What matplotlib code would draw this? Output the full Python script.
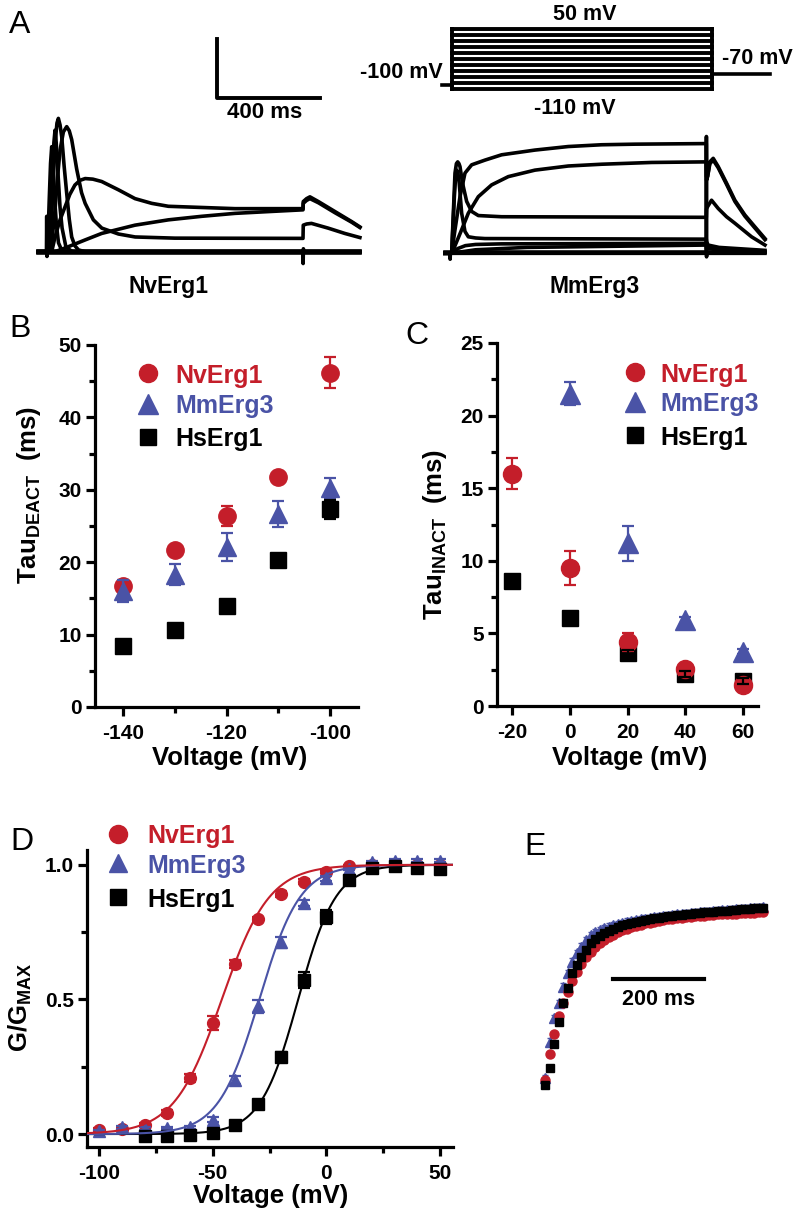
import numpy as np
import matplotlib
matplotlib.use("Agg")
import matplotlib.pyplot as plt
from matplotlib.ticker import FixedLocator, MultipleLocator, FormatStrFormatter

plt.rcParams['font.family'] = ['Liberation Sans', 'DejaVu Sans']
plt.rcParams['font.weight'] = 'bold'
plt.rcParams['axes.unicode_minus'] = False
plt.rcParams['mathtext.fontset'] = 'custom'
plt.rcParams['mathtext.rm'] = 'Liberation Sans:bold'
plt.rcParams['mathtext.bf'] = 'Liberation Sans:bold'
plt.rcParams['mathtext.it'] = 'Liberation Sans:bold'

RED = "#C41E2A"
BLUE = "#4A53A6"
BLACK = "#000000"
names = ["NvErg1", "MmErg3", "HsErg1"]

# ---------------- A: current traces (ms, nA) ----------------
nv_traces = [
    ([-33, -1, 0, 1, 2, 1000, 1000.5, 1001.5, 1003, 1222], [0, 0, 0.6, -0.08, 0, 0, -0.2, 0.05, 0, 0]),
    ([-33, 1000, 1222], [0.02, 0.02, 0.02]),
    ([-33, 1000, 1222], [-0.02, -0.02, -0.02]),
    ([-33, 0, 5, 10, 15, 19.5, 24, 30, 38, 46, 58, 80, 1222],
     [0, 0, 0.25, 0.9, 1.5, 1.78, 1.55, 0.95, 0.45, 0.15, 0.03, 0, 0]),
    ([-33, 0, 8, 15, 22, 28, 32.5, 37, 45, 52, 60, 75, 100, 1222],
     [0, 0, 0.1, 0.55, 1.3, 1.85, 2.06, 1.85, 1.25, 0.75, 0.4, 0.08, 0, 0]),
    ([-33, 0, 9, 18, 26, 34, 40, 45.5, 52, 58.5, 68, 78, 88, 97.5, 110, 124, 150, 1222],
     [0, 0, 0.02, 0.5, 1.27, 1.9, 2.18, 2.26, 2.15, 1.95, 1.45, 0.99, 0.55, 0.25, 0.1, 0.03, 0, 0]),
    ([-33, 13, 22, 32.5, 42, 52, 65, 78, 88, 97.5, 117, 136, 150, 182, 215, 280, 345, 500, 1000,
      1001, 1014, 1033, 1098, 1163, 1222],
     [0, 0, 0.25, 0.71, 1.25, 1.72, 2.03, 2.12, 2.05, 1.9, 1.4, 1.0, 0.82, 0.54, 0.4, 0.3, 0.25, 0.23, 0.226,
      0.45, 0.47, 0.48, 0.40, 0.31, 0.24]),
    ([-33, 19.5, 32.5, 52, 71.5, 90, 110, 130, 150, 180, 214.5, 279.5, 344.5, 409.5, 474.5, 604.5, 734.5, 1000,
      1001, 1014, 1027, 1060, 1125, 1190, 1222],
     [0, 0, 0.25, 0.54, 0.76, 0.97, 1.13, 1.21, 1.24, 1.23, 1.19, 1.05, 0.9, 0.82, 0.77, 0.75, 0.73, 0.73,
      0.85, 0.9, 0.93, 0.85, 0.68, 0.51, 0.42]),
    ([-33, 32.5, 84.5, 150, 214.5, 344.5, 474.5, 604.5, 734.5, 864.5, 1000, 1001, 1014, 1027, 1060, 1125, 1190, 1222],
     [0, 0, 0.085, 0.2, 0.31, 0.45, 0.54, 0.60, 0.65, 0.68, 0.71, 0.82, 0.87, 0.9, 0.83, 0.66, 0.5, 0.41]),
]

mm_traces = [
    ([-20, 0, 0.5, 1.5, 1000, 1000.5, 1001, 1002, 1229], [0, 0, -0.1, 0, 0, 1.98, -0.06, 0, 0]),
    ([-20, 1000, 1229], [0.02, 0.02, 0.02]),
    ([-20, 6.5, 19.5, 39, 58.5, 84.5, 136.5, 201.5, 331.5, 461.5, 591.5, 721.5, 1000,
      1001, 1005, 1014, 1027, 1046.5, 1079, 1111.5, 1150.5, 1189.5, 1229],
     [0, 0, 0.40, 0.96, 1.36, 1.50, 1.58, 1.67, 1.75, 1.81, 1.84, 1.85, 1.86,
      1.3, 1.3, 1.55, 1.61, 1.47, 1.19, 0.90, 0.65, 0.45, 0.25]),
    ([-20, 6.5, 13, 45.5, 71.5, 110.5, 162.5, 227.5, 331.5, 461.5, 591.5, 786.5, 1000,
      1001, 1005, 1014, 1027, 1046.5, 1079, 1111.5, 1150.5, 1189.5, 1229],
     [0, 0, 0.06, 0.40, 0.68, 0.96, 1.16, 1.30, 1.41, 1.48, 1.51, 1.54, 1.55,
      1.24, 1.3, 1.52, 1.58, 1.45, 1.17, 0.88, 0.63, 0.43, 0.23]),
    ([-20, 6.5, 13, 19.5, 25, 30, 35, 39, 45, 52, 65, 84.5, 110.5, 201.5, 1000,
      1001, 1005, 1020.5, 1046.5, 1079, 1111.5, 1176.5, 1229],
     [0, 0, 0.68, 1.36, 1.52, 1.55, 1.52, 1.47, 1.3, 1.13, 0.88, 0.71, 0.64, 0.62, 0.61,
      0.75, 0.79, 0.90, 0.76, 0.62, 0.51, 0.28, 0.14]),
    ([-20, 6.5, 12, 17, 22, 26, 30, 35, 45.5, 58.5, 71.5, 100, 136.5, 1000, 1001, 1007, 1050, 1229],
     [0, 0, 0.5, 0.96, 1.3, 1.41, 1.38, 1.24, 0.68, 0.37, 0.28, 0.26, 0.25, 0.24, 0.2, 0.14, 0.1, 0.05]),
    ([-20, 5, 30, 60, 100, 200, 1000, 1001, 1005, 1100, 1229],
     [0, 0, 0.08, 0.13, 0.15, 0.16, 0.17, 0.12, 0.1, 0.05, 0.02]),
    ([-20, 5, 100, 300, 1000, 1001, 1100, 1229],
     [0, 0, 0.06, 0.1, 0.14, 0.08, 0.04, 0.02]),
]

# voltage protocol (mV, ms)
step_levels = [-110, -94, -78, -62, -46, -30, -14, 2, 18, 34, 50]
hold_v, tail_v = -100, -70
hold_t, step_end, tail_end = -38, 1000, 1223

# ---------------- B: tau deactivation ----------------
deact_v = [-140, -130, -120, -110, -100]
deact_nv = [16.7, 21.7, 26.4, 31.7, 46.2]
deact_nv_err = [0.5, 0.5, 1.4, 0.5, 2.1]
deact_mm = [16.0, 18.3, 22.1, 26.7, 30.2]
deact_mm_err = [1.5, 1.4, 1.9, 1.8, 1.4]
deact_hs = [8.4, 10.7, 13.9, 20.3, 27.3]
deact_hs_err = [0.3, 0.3, 0.3, 0.3, 1.3]

# ---------------- C: tau inactivation ----------------
inact_v = [-20, 0, 20, 40, 60]
inact_nv = [16.0, 9.5, 4.4, 2.55, 1.45]
inact_nv_err = [1.05, 1.2, 0.6, 0.2, 0.2]
inact_mm_v = [0, 20, 40, 60]
inact_mm = [21.5, 11.2, 5.9, 3.75]
inact_mm_err = [0.8, 1.2, 0.2, 0.2]
inact_hs = [8.6, 6.05, 3.65, 2.2, 1.7]
inact_hs_err = [0.2, 0.2, 0.2, 0.2, 0.2]

# ---------------- D: G/Gmax ----------------
gv_v = [-100, -90, -80, -70, -60, -50, -40, -30, -20, -10, 0, 10, 20, 30, 40, 50]
gv_nv = [0.016, 0.02, 0.035, 0.078, 0.208, 0.412, 0.631, 0.798, 0.892, 0.938, 0.975, 0.994, 1.0, 1.0, 1.0, 1.0]
gv_nv_err = [0.005, 0.005, 0.005, 0.01, 0.015, 0.025, 0.015, 0.01, 0.01, 0.01, 0.005, 0.005, 0.005, 0.005, 0.005, 0.005]
gv_mm = [0.01, 0.025, 0.02, 0.022, 0.025, 0.053, 0.20, 0.474, 0.712, 0.858, 0.95, 0.985, 1.01, 1.015, 1.015, 1.015]
gv_mm_err = [0.005, 0.005, 0.005, 0.005, 0.005, 0.01, 0.015, 0.025, 0.02, 0.01, 0.01, 0.005, 0.005, 0.005, 0.005, 0.005]
gv_hs_v = [-80, -70, -60, -50, -40, -30, -20, -10, 0, 10, 20, 30, 40, 50]
gv_hs = [-0.006, -0.006, -0.005, 0.004, 0.035, 0.111, 0.288, 0.573, 0.806, 0.942, 0.988, 0.994, 0.99, 0.985]
gv_hs_err = [0.005, 0.005, 0.005, 0.005, 0.01, 0.01, 0.015, 0.03, 0.025, 0.01, 0.005, 0.005, 0.005, 0.005]
# Boltzmann fit parameters (V1/2, slope) for NvErg1, MmErg3, HsErg1
fit_vhalf = [-46.0, -29.5, -12.4]
fit_k = [10.5, 9.0, 8.3]

# ---------------- E: activation time course (normalized) ----------------
e_t = np.arange(0, 481, 10)
e_nv = [0.222, 0.338, 0.425, 0.507, 0.563, 0.615, 0.664, 0.704, 0.738, 0.767, 0.793, 0.812, 0.83, 0.845,
        0.857, 0.868, 0.878, 0.887, 0.895, 0.902, 0.908, 0.913, 0.918, 0.922, 0.926, 0.93, 0.933, 0.936,
        0.939, 0.941, 0.944, 0.946, 0.948, 0.95, 0.952, 0.953, 0.955, 0.957, 0.958, 0.959, 0.96, 0.961,
        0.962, 0.963, 0.964, 0.965, 0.966, 0.967, 0.968]
e_mm = [0.23, 0.392, 0.496, 0.563, 0.637, 0.696, 0.748, 0.785, 0.815, 0.844, 0.867, 0.878, 0.888, 0.896,
        0.903, 0.909, 0.915, 0.92, 0.925, 0.929, 0.933, 0.936, 0.939, 0.942, 0.945, 0.948, 0.951, 0.953,
        0.956, 0.958, 0.96, 0.962, 0.964, 0.966, 0.968, 0.97, 0.971, 0.973, 0.974, 0.976, 0.977, 0.979,
        0.98, 0.982, 0.983, 0.985, 0.987, 0.988, 0.99]
e_hs = [0.20, 0.274, 0.382, 0.481, 0.563, 0.63, 0.696, 0.733, 0.77, 0.80, 0.83, 0.848, 0.863, 0.876,
        0.886, 0.895, 0.902, 0.909, 0.915, 0.92, 0.925, 0.929, 0.933, 0.937, 0.94, 0.944, 0.947, 0.95,
        0.953, 0.955, 0.957, 0.959, 0.961, 0.963, 0.966, 0.967, 0.969, 0.97, 0.972, 0.973, 0.975, 0.977,
        0.978, 0.98, 0.981, 0.983, 0.985, 0.986, 0.988]
e_mm_err = 0.015

W, H = 796, 1218
fig = plt.figure(figsize=(W / 100, H / 100), dpi=100)


def box(x0, y0, x1, y1):
    return fig.add_axes([x0 / W, 1 - y1 / H, (x1 - x0) / W, (y1 - y0) / H])


def ftext(x, y, s, **kw):
    fig.text(x / W, 1 - y / H, s, **kw)


def style(ax):
    for s in ['top', 'right']:
        ax.spines[s].set_visible(False)
    for s in ['left', 'bottom']:
        ax.spines[s].set_linewidth(2.3)
    ax.tick_params(which='major', length=6.5, width=2.3, labelsize=15)
    ax.tick_params(which='minor', length=4, width=2.3)
    ax.tick_params(axis='x', which='both', pad=6)
    ax.tick_params(axis='y', which='both', pad=3)


def errs(ax, x, y, e, c, z):
    ax.errorbar(x, y, yerr=e, fmt='none', ecolor=c, elinewidth=1.6, capsize=4.5, capthick=1.6, zorder=z)


# ---- A left traces
axl = box(30, 30, 370, 268)
for t, i in nv_traces:
    axl.plot(t, i, color='k', lw=2.6, solid_joinstyle='round')
axl.plot([665, 665, 1065], [3.6, 2.6, 2.6], color='k', lw=2.8)
axl.set_xlim(-65.2, 1261.4)
axl.set_ylim(-0.276, 3.758)
axl.axis('off')

# ---- A right traces
axr = box(440, 125, 780, 268)
for t, i in mm_traces:
    axr.plot(t, i, color='k', lw=2.6, solid_joinstyle='round')
axr.set_xlim(-39.0, 1287.6)
axr.set_ylim(-0.249, 2.175)
axr.axis('off')

# ---- A protocol
axp = box(435, 20, 780, 95)
for v in step_levels:
    axp.plot([0, step_end], [v, v], color='k', lw=2.8)
axp.plot([0, 0], [step_levels[0], step_levels[-1]], color='k', lw=2.8)
axp.plot([step_end, step_end], [step_levels[0], step_levels[-1]], color='k', lw=2.8)
axp.plot([hold_t, 0], [hold_v, hold_v], color='k', lw=2.6)
axp.plot([step_end, tail_end], [tail_v, tail_v], color='k', lw=2.6)
axp.set_xlim(-65.4, 1261.5)
axp.set_ylim(-126, 74)
axp.axis('off')

ftext(20, 25, 'A', fontsize=23, fontweight='normal', ha='center', va='center')
ftext(265, 113, '400 ms', fontsize=16, ha='center', va='center')
ftext(169, 287, 'NvErg1', fontsize=16.5, ha='center', va='center')
ftext(595, 287, 'MmErg3', fontsize=16.5, ha='center', va='center')
ftext(585, 15, '50 mV', fontsize=15.5, ha='center', va='center')
ftext(443, 73, '-100 mV', fontsize=15.5, ha='right', va='center')
ftext(722, 58, '-70 mV', fontsize=15.5, ha='left', va='center')
ftext(575, 108, '-110 mV', fontsize=15.5, ha='center', va='center')

# ---- B
axb = box(95, 345, 358, 707)
style(axb)
errs(axb, deact_v, deact_nv, deact_nv_err, RED, 2)
axb.plot(deact_v, deact_nv, 'o', color=RED, ms=12.5, zorder=3)
errs(axb, deact_v, deact_mm, deact_mm_err, BLUE, 4)
axb.plot(deact_v, deact_mm, '^', color=BLUE, ms=13, zorder=5)
axb.plot(deact_v, deact_hs, 's', color=BLACK, ms=11.5, zorder=6)
errs(axb, deact_v, deact_hs, deact_hs_err, BLACK, 7)
axb.set_xlim(-145.4, -94.6)
axb.set_ylim(0, 50)
axb.xaxis.set_major_locator(FixedLocator([-140, -120, -100]))
axb.xaxis.set_minor_locator(FixedLocator([-130, -110]))
axb.yaxis.set_major_locator(MultipleLocator(10))
axb.yaxis.set_minor_locator(MultipleLocator(5))
ftext(20, 329, 'B', fontsize=23, fontweight='normal', ha='center', va='center')
ftext(29, 495, r'Tau$_{\mathrm{DEACT}}$  (ms)', fontsize=18.5, rotation=90, ha='center', va='center')
ftext(230, 765, 'Voltage (mV)', fontsize=18.5, ha='center', va='baseline')

# ---- C
axc = box(497, 343, 758, 706)
style(axc)
axc.plot(inact_v, inact_hs, 's', color=BLACK, ms=12, zorder=2)
errs(axc, inact_v, inact_nv, inact_nv_err, RED, 3)
axc.plot(inact_v, inact_nv, 'o', color=RED, ms=13, zorder=4)
errs(axc, inact_v, inact_hs, inact_hs_err, BLACK, 5)
errs(axc, inact_mm_v, inact_mm, inact_mm_err, BLUE, 6)
axc.plot(inact_mm_v, inact_mm, '^', color=BLUE, ms=14, zorder=7)
axc.set_xlim(-25.2, 65.2)
axc.set_ylim(0, 25)
axc.xaxis.set_major_locator(FixedLocator([-20, 0, 20, 40, 60]))
axc.yaxis.set_major_locator(MultipleLocator(5))
axc.yaxis.set_minor_locator(MultipleLocator(2.5))
ftext(417, 336, 'C', fontsize=23, fontweight='normal', ha='center', va='center')
ftext(435, 534, r'Tau$_{\mathrm{INACT}}$  (ms)', fontsize=18.5, rotation=90, ha='center', va='center')
ftext(630, 765, 'Voltage (mV)', fontsize=18.5, ha='center', va='baseline')

# ---- D
axd = box(87, 850, 453, 1147)
style(axd)
errs(axd, gv_v, gv_nv, gv_nv_err, RED, 2)
axd.plot(gv_v, gv_nv, 'o', color=RED, ms=8.5, zorder=3)
errs(axd, gv_v, gv_mm, gv_mm_err, BLUE, 4)
axd.plot(gv_v, gv_mm, '^', color=BLUE, ms=9, zorder=5)
errs(axd, gv_hs_v, gv_hs, gv_hs_err, BLACK, 6)
axd.plot(gv_hs_v, gv_hs, 's', color=BLACK, ms=8, zorder=7)
v_fit = np.linspace(-105.3, 55.7, 400)
for vh, k, c, z in zip(fit_vhalf, fit_k, [RED, BLUE, BLACK], [10, 9, 8]):
    axd.plot(v_fit, 1 / (1 + np.exp((vh - v_fit) / k)), color=c, lw=1.5, zorder=z)
axd.set_xlim(-105.3, 55.7)
axd.set_ylim(-0.048, 1.055)
axd.xaxis.set_major_locator(FixedLocator([-100, -50, 0, 50]))
axd.xaxis.set_minor_locator(FixedLocator([-75, -25, 25]))
axd.yaxis.set_major_locator(FixedLocator([0, 0.5, 1.0]))
axd.yaxis.set_minor_locator(FixedLocator([0.25, 0.75]))
axd.yaxis.set_major_formatter(FormatStrFormatter('%.1f'))
ftext(22, 842, 'D', fontsize=23, fontweight='normal', ha='center', va='center')
ftext(20, 1007, r'G/G$_{\mathrm{MAX}}$', fontsize=18.5, rotation=90, ha='center', va='center')
ftext(271, 1203, 'Voltage (mV)', fontsize=18.5, ha='center', va='baseline')

# ---- E
axe = box(535, 895, 775, 1095)
axe.errorbar(e_t, e_mm, yerr=e_mm_err, fmt='^', color=BLUE, ms=6.5, elinewidth=1, capsize=2.5, zorder=2)
axe.plot(e_t, e_nv, 'o', color=RED, ms=6.5, zorder=3)
axe.plot(e_t, e_hs, 's', color=BLACK, ms=5.5, zorder=4)
axe.plot([150, 350], [0.671, 0.671], color='k', lw=3)
axe.text(250, 0.582, '200 ms', fontsize=15.5, ha='center', va='center')
axe.set_xlim(-22, 505.5)
axe.set_ylim(0.1556, 1.0444)
axe.axis('off')
ftext(535, 847, 'E', fontsize=23, fontweight='normal', ha='center', va='center')

# ---- legends (pixel overlay)
ov = fig.add_axes([0, 0, 1, 1], zorder=20)
ov.set_xlim(0, W)
ov.set_ylim(H, 0)
ov.axis('off')
ov.patch.set_alpha(0)
legend_sets = [
    (148, 175, [373, 404, 437], [13, 15, 11]),
    (635, 660, [372, 402, 435], [13, 15, 11]),
    (118, 147, [834, 863, 897], [13, 13.5, 11]),
]
for mx, tx, ys, sizes in legend_sets:
    for name, mk, c, y, ms in zip(names, ['o', '^', 's'], [RED, BLUE, BLACK], ys, sizes):
        ov.plot([mx], [y], mk, color=c, ms=ms, clip_on=False)
        ftext(tx, y, name, color=c, fontsize=18, ha='left', va='center_baseline')

fig.savefig('out.png', dpi=100)
